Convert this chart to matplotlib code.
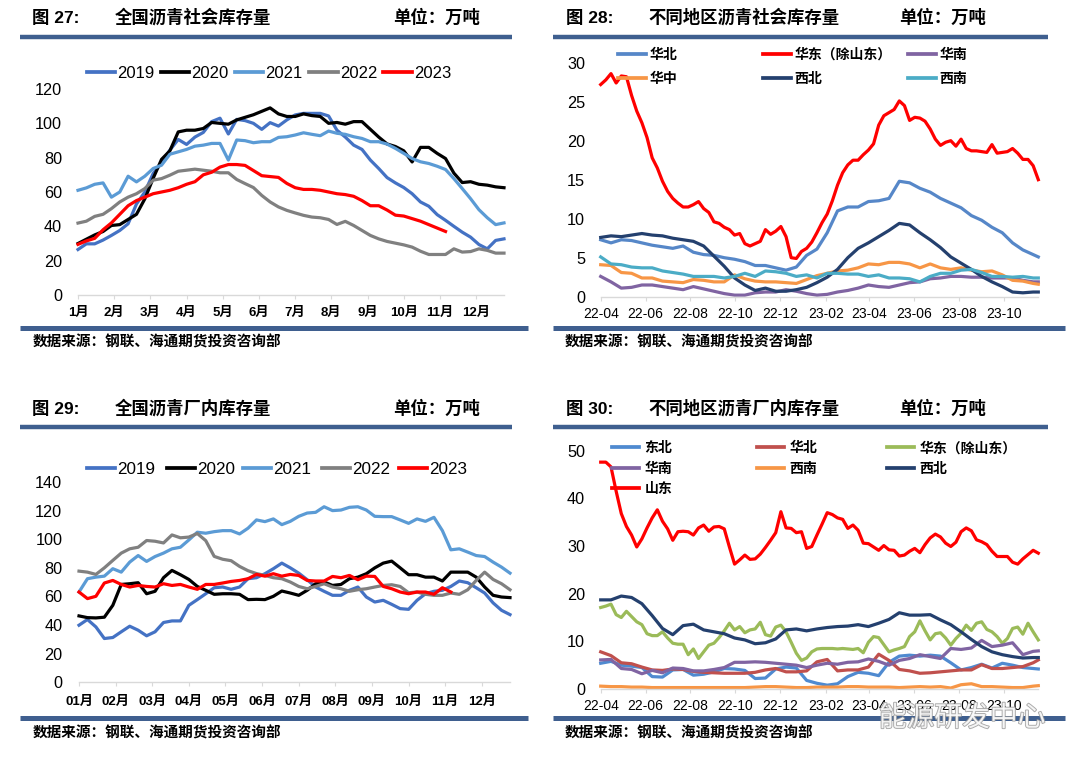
import numpy as np
import pandas as pd
import matplotlib
matplotlib.use('Agg')
import matplotlib.pyplot as plt
from matplotlib.lines import Line2D
import matplotlib.dates as mdates
import matplotlib.patheffects as pe

# ---------------- data: chart 27 (weekly, social inventory by year) ----------------
years = ['2019', '2020', '2021', '2022', '2023']
months_cn = ['1月', '2月', '3月', '4月', '5月', '6月', '7月', '8月', '9月', '10月', '11月', '12月']
soc_2019 = [26.5, 29.8, 29.8, 32, 34.7, 37.6, 41.5, 53, 60, 70.8,
            77, 84.4, 90.6, 87.7, 92, 94.7, 101, 103, 93.8, 102.3,
            101.6, 100, 96.5, 100.4, 98.4, 102, 104.9, 105.8, 105.8, 105.8,
            104.3, 96, 92, 87.3, 84.8, 78.6, 73.7, 68.4, 65.3, 62.6,
            59, 54.2, 51.7, 46.8, 43.5, 40, 36.6, 33.7, 29.4, 26.9,
            31.8, 32.7]
soc_2020 = [30, 32.5, 35, 37, 40.5, 41, 44, 47, 56, 68,
            79, 84, 95, 96, 96, 97, 100.5, 100, 99.5, 102,
            103.5, 105, 107, 109, 105.5, 104, 104, 105.5, 104.5, 104,
            100, 100.5, 99.5, 101, 101, 96.5, 92, 88, 86.5, 84,
            77.5, 86, 86, 82.5, 79.5, 71, 65.5, 66, 64.5, 64,
            63, 62.5]
soc_2021 = [61, 62.4, 64.5, 65.3, 57, 60, 69.2, 65.9, 69.2, 73.7,
            75.6, 82, 83.4, 84.8, 86.7, 87.3, 88.3, 88.3, 78.6, 90.3,
            89.9, 88.7, 89.3, 89.3, 91.8, 92.2, 93.2, 94.5, 93.6, 92.8,
            95.5, 94.2, 93.6, 92.2, 91.2, 89.3, 89.3, 87.9, 85.4, 82.5,
            79.5, 77.6, 76.6, 75, 73.1, 67.8, 62, 56.1, 49.7, 45,
            41, 42]
soc_2022 = [41.9, 43, 45.8, 47, 50.3, 54.2, 57, 59, 62, 66.9,
            67.8, 69.8, 72.1, 72.7, 73.3, 72.7, 72.1, 71.2, 71.2, 67.3,
            64.9, 62.6, 58, 54.2, 51.3, 49.3, 47.8, 46.4, 45.4, 45,
            44, 41.1, 42.9, 40.5, 37.6, 34.7, 32.7, 31.2, 30.2, 29.2,
            27.9, 25.5, 23.6, 23.6, 23.6, 26.9, 25, 25.3, 26.9, 26,
            24.4, 24.4]
soc_2023 = [29.5, 31.5, 33, 38, 42, 47, 52, 55, 57, 59,
            60, 61, 62.5, 64.5, 66, 70, 71.5, 74.5, 76, 76,
            75.5, 72.5, 69.5, 69, 68.5, 65, 62.5, 61.5, 61.5, 61,
            60, 59, 58.5, 57.5, 55, 52, 52, 49.5, 46.5, 46,
            44.5, 43, 41, 39, 37]

# ---------------- data: chart 29 (weekly, plant inventory by year) ----------------
months_cn2 = ['01月', '02月', '03月', '04月', '05月', '06月', '07月', '08月', '09月', '10月', '11月', '12月']
plt_2019 = [39.9, 43.9, 38.7, 30.6, 31.3, 35.3, 39.2, 36.4, 32.5, 35.3,
            41.8, 42.9, 42.9, 53.8, 57.8, 61.9, 66.1, 66.6, 65, 66.6,
            72.4, 73.1, 75.9, 79.4, 83.3, 80, 76.3, 71.7, 66.6, 63.6,
            60.8, 60.8, 64.3, 66.6, 59.6, 56.1, 57.3, 54.5, 51.5, 51,
            57.3, 61.9, 63.6, 64.3, 67, 70.8, 69.6, 66.1, 62.4, 55.5,
            50.3, 47.3]
plt_2020 = [46.4, 45.2, 45, 45.5, 53.8, 68.4, 68.9, 69.6, 61.9, 63.6,
            73.1, 78.2, 75.2, 71.9, 67, 64.3, 61.5, 61.9, 61.9, 61.5,
            57.8, 58, 57.8, 60.1, 63.8, 62.4, 60.8, 64.3, 68.9, 70.1,
            67.7, 68.4, 72.4, 73.5, 75.9, 80, 83.3, 84.7, 80, 75.2,
            75.2, 73.5, 73.5, 70.8, 77, 77, 77, 73.5, 66.6, 60.8,
            59.6, 59.2]
plt_2021 = [63.1, 72.4, 73.5, 74.2, 79.4, 77, 84, 88.6, 84.5, 87.9,
            90.3, 93.3, 94.4, 99.5, 104.9, 104.2, 105.3, 106, 106, 103.7,
            107.7, 113.5, 112.3, 114.2, 110.2, 112.5, 116, 118.3, 118.8, 122.7,
            120, 120.4, 122.3, 122.7, 120.4, 116, 115.8, 115.8, 113.5, 111.1,
            114.2, 112.5, 115.3, 106, 92.6, 93.3, 91, 88.6, 87.9, 84,
            80.5, 76.3]
plt_2022 = [77.7, 77, 75.4, 80, 85.2, 90.3, 93.3, 94.4, 99.1, 98.6,
            97.4, 103, 101, 101.5, 104, 99, 88, 86, 85, 81,
            78, 76, 74.7, 73.1, 72.4, 70.1, 67, 65.4, 67, 68.9,
            66.6, 65.4, 63.6, 64.7, 65.4, 66.6, 67.7, 68.2, 67, 62.6,
            63.1, 61.5, 60.8, 60.8, 62.4, 61.5, 64.7, 71.2, 77, 71.9,
            68.9, 64.7]
plt_2023 = [63.1, 58.5, 60.1, 69.4, 71.2, 68.4, 66.6, 67.7, 67, 66.6,
            68.9, 67.7, 68.4, 66.6, 65, 68.4, 68.4, 69.4, 70.5, 71.2,
            72.4, 75.4, 74.2, 75.9, 74.2, 75.4, 74.7, 71.2, 70.8, 70.8,
            74, 73.1, 74.7, 71.7, 74.2, 74, 67, 65.4, 63.1, 61.9,
            63.1, 63.1, 61.5, 66.1, 63.1]

# ---------------- data: chart 28 (regional social inventory, 2022-04 .. 2023-11) ----------------
weekly_dates = pd.date_range('2022-04-01', periods=86, freq='7D')
biweekly_dates = pd.date_range('2022-04-01', periods=43, freq='14D').append(pd.DatetimeIndex(['2023-11-17']))

s_huadong = [27.2, 27.8, 28.6, 27.4, 28.3, 28.2, 25.8, 23.8, 22.3, 20.4,
             17.8, 16.5, 14.8, 13.5, 12.6, 12.0, 11.5, 11.5, 11.8, 12.2,
             11.3, 10.8, 9.6, 9.4, 8.9, 8.6, 7.9, 8.1, 6.8, 6.5,
             6.8, 7.1, 8.6, 8.0, 8.4, 9.0, 7.7, 5.0, 4.9, 5.8,
             6.2, 7.0, 8.2, 9.5, 10.6, 12.3, 14.3, 15.9, 16.9, 17.5,
             17.5, 18.2, 18.8, 19.6, 22.0, 23.2, 23.6, 24.0, 25.1, 24.5,
             22.6, 23.0, 22.9, 22.5, 21.5, 20.2, 19.4, 19.8, 20.0, 19.3,
             20.2, 19.0, 18.7, 18.7, 18.6, 18.5, 19.5, 18.4, 18.5, 18.6,
             19.0, 18.4, 17.6, 17.6, 16.8, 15.0]
s_huabei = [7.3, 6.9, 7.3, 7.2, 6.9, 6.6, 6.4, 6.2, 6.5, 5.7,
            5.4, 5.3, 5.0, 4.8, 4.5, 4.0, 4.0, 3.7, 3.4, 3.8,
            5.3, 6.1, 8.2, 11.0, 11.5, 11.5, 12.2, 12.3, 12.6, 14.8,
            14.6, 13.9, 13.4, 12.6, 12.0, 11.4, 10.4, 9.8, 8.9, 8.2,
            6.9, 6.0, 5.4, 5.1]
s_huanan = [2.6, 1.9, 1.1, 1.2, 1.5, 1.5, 1.3, 1.1, 0.9, 1.3,
            1.0, 0.7, 0.4, 0.2, 0.2, 0.5, 0.6, 0.6, 0.9, 0.7,
            0.4, 0.2, 0.3, 0.6, 0.8, 1.1, 1.5, 1.3, 1.2, 1.5,
            1.8, 1.9, 2.3, 2.4, 2.6, 2.6, 2.5, 2.5, 2.4, 2.4,
            2.4, 2.1, 1.9, 1.9]
s_huazhong = [4.1, 4.0, 3.1, 3.0, 2.4, 2.4, 2.0, 1.9, 1.8, 2.2,
              2.1, 1.9, 1.9, 2.8, 2.3, 2.0, 1.9, 1.9, 1.8, 1.7,
              2.2, 2.7, 3.0, 3.3, 3.4, 3.7, 4.2, 4.1, 4.4, 4.4,
              4.2, 3.7, 4.2, 3.7, 3.5, 3.7, 3.4, 3.2, 3.3, 2.8,
              2.1, 2.0, 1.7, 1.6]
s_xibei = [7.6, 7.8, 7.7, 7.9, 8.1, 7.9, 7.8, 7.5, 7.3, 7.1,
           6.5, 5.2, 3.9, 2.4, 1.5, 0.8, 1.1, 0.7, 0.7, 0.9,
           1.2, 1.8, 2.5, 3.5, 5.0, 6.2, 6.9, 7.7, 8.5, 9.4,
           9.2, 8.2, 7.3, 6.3, 5.1, 4.3, 3.5, 2.6, 1.9, 1.3,
           0.6, 0.5, 0.6, 0.6]
s_xinan = [5.1, 4.2, 4.1, 3.8, 3.7, 3.7, 3.3, 3.1, 2.9, 2.6,
           2.6, 2.6, 2.4, 2.6, 3.0, 2.6, 3.3, 3.2, 3.0, 2.6,
           2.8, 2.4, 3.0, 3.0, 2.9, 2.9, 2.6, 2.8, 2.4, 2.4,
           2.3, 1.9, 2.6, 3.0, 3.0, 3.4, 3.5, 3.1, 2.6, 2.6,
           2.5, 2.6, 2.4, 2.4]

# ---------------- data: chart 30 (regional plant inventory) ----------------
p_shandong = [47.6, 47.6, 46.6, 41.5, 36.8, 34.1, 32.3, 29.8, 31.5, 33.8,
              35.9, 37.6, 35.2, 33.6, 31.2, 33.0, 33.1, 33.0, 32.3, 33.8,
              34.4, 33.1, 34.0, 34.1, 33.6, 29.8, 26.2, 27.1, 28.1, 27.2,
              27.3, 28.3, 29.7, 31.2, 32.8, 37.2, 33.8, 33.7, 32.8, 33.0,
              29.5, 29.9, 32.3, 34.6, 37.0, 36.6, 35.9, 35.6, 33.7, 34.4,
              33.3, 30.6, 30.5, 29.8, 29.1, 30.1, 29.2, 29.1, 27.9, 28.1,
              28.9, 29.5, 28.6, 30.3, 31.7, 32.5, 31.9, 30.6, 29.9, 30.8,
              33.0, 33.8, 33.2, 31.3, 30.9, 30.3, 28.9, 27.8, 27.8, 27.8,
              26.6, 26.2, 27.3, 28.2, 29.1, 28.5]
p_huadong = [17.1, 17.4, 17.8, 15.6, 15.0, 16.3, 15.2, 14.1, 13.5, 11.6,
             11.2, 11.2, 12.0, 10.7, 9.6, 9.4, 9.4, 7.2, 8.4, 6.4,
             7.8, 9.2, 9.6, 10.8, 12.2, 13.8, 12.4, 13.1, 11.8, 12.4,
             12.6, 14.0, 11.4, 11.1, 13.0, 13.4, 12.0, 9.8, 7.5, 6.0,
             6.5, 7.8, 8.4, 8.5, 8.5, 8.5, 8.4, 8.5, 8.4, 8.3,
             8.5, 7.6, 9.8, 11.0, 10.8, 9.3, 7.8, 8.2, 8.5, 8.9,
             11.0, 12.0, 14.3, 12.2, 10.3, 11.6, 11.8, 10.7, 9.2, 10.6,
             11.7, 13.4, 12.3, 13.8, 14.1, 12.5, 12.0, 11.0, 9.6, 10.6,
             12.7, 13.0, 11.5, 13.8, 12.0, 10.3]
p_dongbei = [5.4, 5.8, 5.0, 4.8, 4.5, 2.6, 2.5, 4.0, 4.1, 2.9,
             3.1, 3.6, 4.3, 4.2, 3.9, 2.2, 2.3, 4.2, 4.6, 4.4,
             1.8, 1.2, 0.8, 1.1, 2.6, 3.5, 3.3, 2.8, 5.6, 6.9,
             7.1, 6.9, 7.1, 6.9, 5.5, 4.0, 4.5, 5.2, 4.4, 5.4,
             5.0, 4.5, 4.3, 4.2]
p_huabei = [7.8, 7.0, 5.5, 5.3, 4.6, 4.0, 3.9, 4.2, 4.1, 3.7,
            3.5, 3.4, 3.3, 3.3, 3.3, 3.5, 4.0, 4.3, 3.6, 3.6,
            3.8, 5.7, 6.2, 3.8, 4.0, 4.0, 4.6, 7.3, 6.0, 4.1,
            3.8, 3.3, 3.4, 3.6, 3.8, 4.0, 4.0, 5.1, 4.3, 4.3,
            4.5, 4.7, 5.5, 6.1]
p_huanan = [6.1, 6.2, 4.3, 4.1, 3.2, 3.9, 3.4, 4.4, 4.3, 3.8,
            3.8, 4.1, 4.5, 5.6, 5.6, 5.7, 5.6, 5.4, 5.2, 5.0,
            4.5, 5.0, 5.4, 5.2, 5.6, 5.7, 6.3, 5.8, 5.0, 6.0,
            6.4, 7.2, 6.8, 6.4, 8.5, 8.3, 8.6, 10.2, 8.9, 9.2,
            9.7, 7.2, 7.9, 8.0]
p_xinan = [0.6, 0.5, 0.5, 0.4, 0.4, 0.3, 0.3, 0.3, 0.3, 0.3,
           0.3, 0.3, 0.3, 0.3, 0.3, 0.4, 0.5, 0.5, 0.4, 0.3,
           0.3, 0.4, 0.4, 0.4, 0.5, 0.5, 0.4, 0.4, 0.4, 0.3,
           0.4, 0.5, 0.4, 0.5, 0.2, 0.9, 1.1, 0.5, 0.5, 0.4,
           0.3, 0.3, 0.6, 0.7]
p_xibei = [18.7, 18.7, 19.5, 19.2, 17.9, 15.4, 12.7, 11.4, 13.3, 13.6,
           12.4, 12.0, 11.6, 10.7, 10.3, 9.5, 9.7, 10.5, 12.4, 12.6,
           12.2, 12.6, 12.9, 13.1, 13.2, 13.5, 13.1, 13.8, 14.6, 16.0,
           15.5, 15.5, 15.6, 14.5, 13.5, 12.0, 10.4, 8.9, 7.8, 7.2,
           6.8, 6.5, 6.6, 6.6]

# ---------------- styling ----------------
W, H = 1080, 765
fig = plt.figure(figsize=(10.8, 7.65), dpi=100)
CJK = ['Noto Sans CJK SC', 'DejaVu Sans']
NUM = ['Liberation Sans', 'Noto Sans CJK SC', 'DejaVu Sans']
RULE = '#3F5F8F'
AXC = '#D9D9D9'
LW = 2.3

year_colors = ['#4472C4', '#000000', '#5B9BD5', '#808080', '#FF0000']


def fx(x):
    return x / W


def fy(y):
    return 1 - y / H


def add_axes(l, r, t, b):
    return fig.add_axes([fx(l), fy(b), fx(r) - fx(l), fy(t) - fy(b)])


def rule(x0, x1, y, lw=3.2):
    fig.add_artist(Line2D([fx(x0), fx(x1)], [fy(y), fy(y)], transform=fig.transFigure,
                          color=RULE, lw=lw, solid_capstyle='butt'))


def header(x_fig, x_title, x_unit, y, fig_label, title):
    fig.text(fx(x_fig), fy(y), fig_label, family=NUM, weight='bold', fontsize=12.5, ha='left', va='center')
    fig.text(fx(x_title), fy(y), title, family=CJK, weight='bold', fontsize=12.5, ha='left', va='center')
    fig.text(fx(x_unit), fy(y), '单位：万吨', family=CJK, weight='bold', fontsize=12.5, ha='left', va='center')


def source(x, y):
    fig.text(fx(x), fy(y), '数据来源：钢联、海通期货投资咨询部', family=CJK, weight='bold',
             fontsize=10.5, ha='left', va='center')


def entry(color, label, x, y, fs, hl, pad, family=CJK, weight='bold'):
    h = Line2D([], [], color=color, lw=LW + 0.4)
    fig.legend([h], [label], loc='center left', bbox_to_anchor=(fx(x), fy(y)),
               frameon=False, borderpad=0, borderaxespad=0, handlelength=hl,
               handletextpad=pad, prop={'family': family, 'size': fs, 'weight': weight})


def style(ax, yticks, ylim, ypad):
    for s in ['top', 'right', 'left']:
        ax.spines[s].set_visible(False)
    ax.spines['bottom'].set_color(AXC)
    ax.spines['bottom'].set_linewidth(1.0)
    ax.patch.set_alpha(0)
    ax.set_ylim(*ylim)
    ax.set_yticks(yticks)
    ax.set_yticklabels([str(v) for v in yticks], family=NUM, fontsize=11.7)
    ax.tick_params(axis='y', length=0, pad=ypad)
    ax.tick_params(axis='x', length=3, width=0.8, color=AXC, direction='out')


# ================= Chart 27 =================
header(32, 115, 393, 18, '图 27:', '全国沥青社会库存量')
rule(20, 512, 36.5)
ax1 = add_axes(78, 504, 89, 295)
for name, vals, c in zip(years, [soc_2019, soc_2020, soc_2021, soc_2022, soc_2023], year_colors):
    ax1.plot(np.arange(len(vals)), vals, color=c, lw=LW, solid_joinstyle='round', clip_on=False)
ax1.set_xlim(0, 51)
style(ax1, [0, 20, 40, 60, 80, 100, 120], (0, 120), 11.5)
ax1.set_xticks(np.arange(12) * 52 / 12)
ax1.set_xticklabels(months_cn, family=NUM, weight='bold', fontsize=9.5)
ax1.tick_params(axis='x', pad=5.5)
for i, (name, c) in enumerate(zip(years, year_colors)):
    entry(c, name, [86.7, 161, 235, 309.3, 383.3][i], 73.3, 12, 1.7, 0.12, family=NUM, weight='normal')
rule(20, 528, 327.5, 3.6)
source(33, 342)

# ================= Chart 28 =================
header(566, 648, 899, 18, '图 28:', '不同地区沥青社会库存量')
rule(553, 1048, 36.5)
ax2 = add_axes(600.7, 1038.3, 62.7, 296.7)
reg28 = [('华北', s_huabei, '#5687C8', biweekly_dates),
         ('华东（除山东）', s_huadong, '#FF0000', weekly_dates),
         ('华南', s_huanan, '#8064A2', biweekly_dates),
         ('华中', s_huazhong, '#F79646', biweekly_dates),
         ('西北', s_xibei, '#24406E', biweekly_dates),
         ('西南', s_xinan, '#4BACC6', biweekly_dates)]
for name, vals, c, d in reg28:
    ax2.plot(d, vals, color=c, lw=LW, solid_joinstyle='round', clip_on=False, zorder=3 if c == '#FF0000' else 2)
ax2.set_xlim(pd.Timestamp('2022-04-01'), pd.Timestamp('2023-11-17'))
style(ax2, [0, 5, 10, 15, 20, 25, 30], (0, 30), 11.3)
ax2.xaxis.set_major_locator(mdates.MonthLocator(bymonth=[2, 4, 6, 8, 10, 12]))
ax2.xaxis.set_major_formatter(mdates.DateFormatter('%y-%m'))
for t in ax2.get_xticklabels():
    t.set_family(NUM)
    t.set_fontsize(10)
ax2.tick_params(axis='x', pad=4.5)
leg28_pos = [(618.3, 55), (763.3, 55), (908.3, 55), (618.3, 79), (763.3, 79), (908.3, 79)]
for (name, vals, c, d), (x, y) in zip(reg28, leg28_pos):
    entry(c, name, x, y, 10, 2.0, 0.24)
rule(553, 1065, 327.5, 3.6)
source(565, 342)

# ================= Chart 29 =================
header(32, 115, 393, 409, '图 29:', '全国沥青厂内库存量')
rule(20, 512, 427.3)
ax3 = add_axes(79, 510, 482, 682.3)
for name, vals, c in zip(years, [plt_2019, plt_2020, plt_2021, plt_2022, plt_2023], year_colors):
    ax3.plot(np.arange(len(vals)), vals, color=c, lw=LW, solid_joinstyle='round', clip_on=False)
ax3.set_xlim(0, 51)
style(ax3, [0, 20, 40, 60, 80, 100, 120, 140], (0, 140), 12)
ax3.set_xticks(np.arange(12) * 52 / 12)
ax3.set_xticklabels(months_cn2, family=NUM, weight='bold', fontsize=9.5)
ax3.tick_params(axis='x', pad=6.5)
for i, (name, c) in enumerate(zip(years, year_colors)):
    entry(c, name, [87.3, 166.7, 243.3, 321.7, 399.3][i], 469, 12.3, 1.65, 0.12, family=NUM, weight='normal')
rule(20, 528, 718.3, 3.6)
source(33, 732.5)

# ================= Chart 30 =================
header(566, 648, 899, 409, '图 30:', '不同地区沥青厂内库存量')
rule(553, 1048, 427.3)
ax4 = add_axes(600.7, 1038.3, 450.7, 689)
reg30 = [('东北', p_dongbei, '#4F8AD0', biweekly_dates),
         ('华北', p_huabei, '#C0504D', biweekly_dates),
         ('华东（除山东）', p_huadong, '#9BBB59', weekly_dates),
         ('华南', p_huanan, '#8064A2', biweekly_dates),
         ('西南', p_xinan, '#F79646', biweekly_dates),
         ('西北', p_xibei, '#24406E', biweekly_dates),
         ('山东', p_shandong, '#FF0000', weekly_dates)]
for name, vals, c, d in reg30:
    ax4.plot(d, vals, color=c, lw=LW, solid_joinstyle='round', clip_on=False)
ax4.set_xlim(pd.Timestamp('2022-04-01'), pd.Timestamp('2023-11-17'))
style(ax4, [0, 10, 20, 30, 40, 50], (0, 50), 11.3)
ax4.xaxis.set_major_locator(mdates.MonthLocator(bymonth=[2, 4, 6, 8, 10, 12]))
ax4.xaxis.set_major_formatter(mdates.DateFormatter('%y-%m'))
for t in ax4.get_xticklabels():
    t.set_family(NUM)
    t.set_fontsize(10)
ax4.tick_params(axis='x', pad=4)
leg30_pos = [(611.7, 448.3), (756.7, 448.3), (886.7, 448.3),
             (611.7, 469.3), (756.7, 469.3), (886.7, 469.3), (611.7, 489.3)]
for (name, vals, c, d), (x, y) in zip(reg30, leg30_pos):
    entry(c, name, x, y, 10, 2.0, 0.36)
rule(553, 1065, 718.3, 3.6)
source(565, 732.5)

# watermark (semi-transparent outlined text, as in the reference)
fig.text(fx(962), fy(718), '能源研发中心', family=CJK, fontsize=20, color='white', alpha=0.85,
         ha='center', va='center', zorder=10,
         path_effects=[pe.withStroke(linewidth=1.3, foreground='#9A9A9A')])

fig.savefig('out.png', dpi=100)
